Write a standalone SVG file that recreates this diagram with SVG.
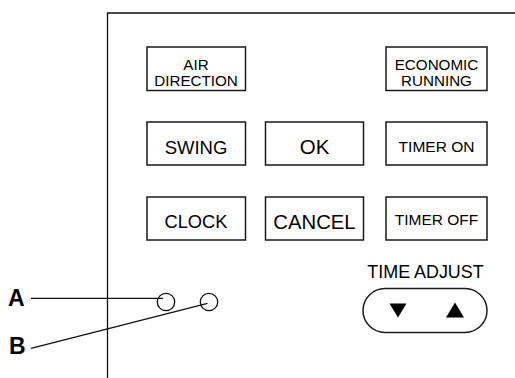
<svg xmlns="http://www.w3.org/2000/svg" width="515" height="378" viewBox="0 0 515 378">
<style>
.btn{fill:#fff;stroke:#1a1a1a;stroke-width:1.5}
.t{font-family:"Liberation Sans",Arial,sans-serif;fill:#000;text-anchor:middle}
.ln{stroke:#111;stroke-width:1.3;fill:none}
.lbl{font-family:"Liberation Sans",Arial,sans-serif;font-weight:bold;font-size:23px;fill:#000}
</style>
<rect width="515" height="378" fill="#fff"/>
<g id="frame">
<path class="ln" d="M107.5,378 V13 H515"/>
</g>
<g id="air-direction">
<rect class="btn" x="147" y="47" width="98.5" height="43.5"/>
<text class="t" x="196" y="69.5" font-size="15.2">AIR</text>
<text class="t" x="196" y="85.5" font-size="15.2">DIRECTION</text>
</g>
<g id="economic-running">
<rect class="btn" x="386" y="47" width="101" height="43.5"/>
<text class="t" x="436.5" y="69.5" font-size="15.2">ECONOMIC</text>
<text class="t" x="436.5" y="85.5" font-size="15.2">RUNNING</text>
</g>
<g id="swing">
<rect class="btn" x="147" y="122" width="98.5" height="43"/>
<text class="t" x="196" y="153.5" font-size="18.5">SWING</text>
</g>
<g id="ok">
<rect class="btn" x="265.5" y="122" width="98" height="43"/>
<text class="t" x="314.5" y="154" font-size="20.5">OK</text>
</g>
<g id="timer-on">
<rect class="btn" x="386" y="122" width="101" height="43"/>
<text class="t" x="436.5" y="151.5" font-size="15.5">TIMER ON</text>
</g>
<g id="clock">
<rect class="btn" x="147" y="197" width="98.5" height="43"/>
<text class="t" x="196" y="228" font-size="18.3">CLOCK</text>
</g>
<g id="cancel">
<rect class="btn" x="265.5" y="197" width="98" height="43"/>
<text class="t" x="314.5" y="229" font-size="20.3">CANCEL</text>
</g>
<g id="timer-off">
<rect class="btn" x="386" y="197" width="101" height="43"/>
<text class="t" x="436.5" y="225" font-size="15.5">TIMER OFF</text>
</g>
<g id="time-adjust">
<text class="t" x="425.5" y="277.5" font-size="17.9">TIME ADJUST</text>
<rect class="btn" x="363" y="288.5" width="124" height="44" rx="22"/>
<polygon points="389.5,303.5 406.5,303.5 398,317.5" fill="#000"/>
<polygon points="446,317.5 464,317.5 455,302.5" fill="#000"/>
</g>
<g id="led-a">
<circle class="ln" cx="166" cy="302" r="8.7"/>
</g>
<g id="led-b">
<circle class="ln" cx="209" cy="302" r="8.7"/>
</g>
<g id="connectors">
<line class="ln" x1="31" y1="298.3" x2="163" y2="298.3"/>
<line class="ln" x1="31" y1="348.3" x2="207.5" y2="303.3"/>
</g>
<g id="labels">
<text class="lbl" x="8" y="306">A</text>
<text class="lbl" x="9" y="353.5">B</text>
</g>
</svg>
